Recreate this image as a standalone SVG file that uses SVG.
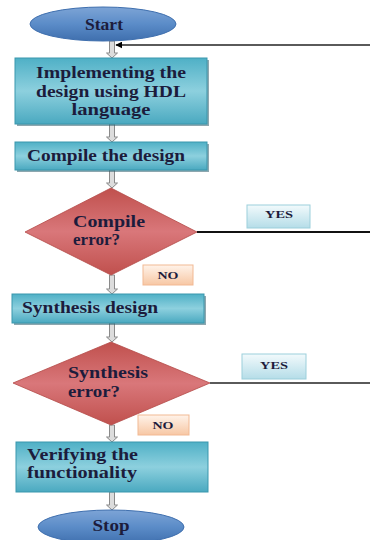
<svg xmlns="http://www.w3.org/2000/svg" width="370" height="540" viewBox="0 0 370 540">
<defs>
<linearGradient id="gBox" x1="0" y1="0" x2="0" y2="1">
<stop offset="0" stop-color="#4fb0c6"/><stop offset="0.5" stop-color="#8dd0de"/><stop offset="1" stop-color="#4aa9c0"/>
</linearGradient>
<linearGradient id="gDia" x1="0" y1="0" x2="0" y2="1">
<stop offset="0" stop-color="#c0504d"/><stop offset="0.5" stop-color="#d9777a"/><stop offset="1" stop-color="#c0504d"/>
</linearGradient>
<linearGradient id="gEll" x1="0" y1="0" x2="0" y2="1">
<stop offset="0" stop-color="#7da4d6"/><stop offset="0.5" stop-color="#5b8cc8"/><stop offset="1" stop-color="#3f6fae"/>
</linearGradient>
<linearGradient id="gYes" x1="0" y1="0" x2="0" y2="1">
<stop offset="0" stop-color="#f2fafc"/><stop offset="1" stop-color="#b5dde8"/>
</linearGradient>
<linearGradient id="gNo" x1="0" y1="0" x2="0" y2="1">
<stop offset="0" stop-color="#fff3ea"/><stop offset="1" stop-color="#f7c7a4"/>
</linearGradient>
<marker id="ah" viewBox="0 0 10 10" refX="9" refY="5" markerWidth="7" markerHeight="7" orient="auto-start-reverse" markerUnits="userSpaceOnUse">
<path d="M0,0 L10,5 L0,10 z" fill="#000"/>
</marker>
</defs>
<style>
.box{fill:url(#gBox);stroke:#3a97ad;stroke-width:1}
.shadow{fill:#2f5f6e;opacity:0.55}
.dia{fill:url(#gDia);stroke:#b44a48;stroke-width:0.8}
.ell{fill:url(#gEll);stroke:#3f6fae;stroke-width:1}
.yes{fill:url(#gYes);stroke:#9ccfdb;stroke-width:1}
.no{fill:url(#gNo);stroke:#f2b993;stroke-width:1}
.t{font-family:"Liberation Serif","Times New Roman",serif;font-weight:bold;fill:#1c1c3c}
.big{font-size:17px}
.sm{font-size:11px}
.blk{fill:#dcdcdc;stroke:#8a8a8a;stroke-width:1}
.line{fill:none;stroke-width:2}
</style>
<rect width="370" height="540" fill="#ffffff"/>

<g id="connectors">
<path class="blk" d="M109.5,41 h5 v12 h3 l-5.5,5 l-5.5,-5 h3 z"/>
<path class="blk" d="M109.5,124 h5 v13 h3 l-5.5,5 l-5.5,-5 h3 z"/>
<path class="blk" d="M109.5,170 h5 v13 h3 l-5.5,5 l-5.5,-5 h3 z"/>
<path class="blk" d="M109.5,275 h5 v14 h3 l-5.5,5 l-5.5,-5 h3 z"/>
<path class="blk" d="M109.5,323 h5 v14 h3 l-5.5,5 l-5.5,-5 h3 z"/>
<path class="blk" d="M109.5,425 h5 v12 h3 l-5.5,5 l-5.5,-5 h3 z"/>
<path class="blk" d="M109.5,492 h5 v13 h3 l-5.5,5 l-5.5,-5 h3 z"/>
<line class="line" x1="370" y1="45" x2="116" y2="45" stroke="#5a5a5a" marker-end="url(#ah)"/>
<line class="line" x1="197" y1="232" x2="370" y2="232" stroke="#111" stroke-width="1.5"/>
<line class="line" x1="210" y1="383" x2="370" y2="383" stroke="#5a5a5a"/>
</g>

<g id="start">
<ellipse class="ell" cx="103" cy="24" rx="73" ry="17"/>
<text class="t big" x="104" y="30" text-anchor="middle" textLength="38" lengthAdjust="spacingAndGlyphs">Start</text>
</g>

<g id="implement">
<rect class="shadow" x="17" y="60" width="192" height="66"/>
<rect class="box" x="15" y="58" width="192" height="66"/>
<text class="t big" x="111" y="78" text-anchor="middle" textLength="150" lengthAdjust="spacingAndGlyphs">Implementing the</text>
<text class="t big" x="111" y="97" text-anchor="middle" textLength="150" lengthAdjust="spacingAndGlyphs">design using HDL</text>
<text class="t big" x="111" y="115" text-anchor="middle" textLength="79" lengthAdjust="spacingAndGlyphs">language</text>
</g>

<g id="compile">
<rect class="shadow" x="17" y="144" width="192" height="28"/>
<rect class="box" x="15" y="142" width="192" height="28"/>
<text class="t big" x="27" y="161" textLength="158" lengthAdjust="spacingAndGlyphs">Compile the design</text>
</g>

<g id="compile-error">
<polygon class="dia" points="111,188 197,232 111,275 25,232"/>
<text class="t big" x="73" y="227" textLength="72" lengthAdjust="spacingAndGlyphs">Compile</text>
<text class="t big" x="73" y="245" textLength="47" lengthAdjust="spacingAndGlyphs">error?</text>
</g>

<g id="yes1">
<rect class="yes" x="247" y="205" width="63" height="23"/>
<text class="t sm" x="279" y="218" text-anchor="middle" textLength="28" lengthAdjust="spacingAndGlyphs">YES</text>
</g>

<g id="no1">
<rect class="no" x="143" y="265" width="50" height="20"/>
<text class="t sm" x="168" y="279" text-anchor="middle" textLength="21" lengthAdjust="spacingAndGlyphs">NO</text>
</g>

<g id="synthesis">
<rect class="shadow" x="14" y="296" width="192" height="29"/>
<rect class="box" x="12" y="294" width="192" height="29"/>
<text class="t big" x="22" y="313" textLength="136" lengthAdjust="spacingAndGlyphs">Synthesis design</text>
</g>

<g id="synthesis-error">
<polygon class="dia" points="111,342 210,383 111,425 13,383"/>
<text class="t big" x="68" y="378" textLength="80" lengthAdjust="spacingAndGlyphs">Synthesis</text>
<text class="t big" x="68" y="397" textLength="52" lengthAdjust="spacingAndGlyphs">error?</text>
</g>

<g id="yes2">
<rect class="yes" x="242" y="354" width="64" height="25"/>
<text class="t sm" x="274" y="369" text-anchor="middle" textLength="28" lengthAdjust="spacingAndGlyphs">YES</text>
</g>

<g id="no2">
<rect class="no" x="138" y="415" width="51" height="20"/>
<text class="t sm" x="163" y="429" text-anchor="middle" textLength="21" lengthAdjust="spacingAndGlyphs">NO</text>
</g>

<g id="verify">
<rect class="box" x="16" y="442" width="192" height="50"/>
<text class="t big" x="27" y="460" textLength="111" lengthAdjust="spacingAndGlyphs">Verifying the</text>
<text class="t big" x="27" y="478" textLength="110" lengthAdjust="spacingAndGlyphs">functionality</text>
</g>

<g id="stop">
<ellipse class="ell" cx="111" cy="527" rx="73" ry="17"/>
<text class="t big" x="111" y="531" text-anchor="middle" textLength="37" lengthAdjust="spacingAndGlyphs">Stop</text>
</g>
</svg>
